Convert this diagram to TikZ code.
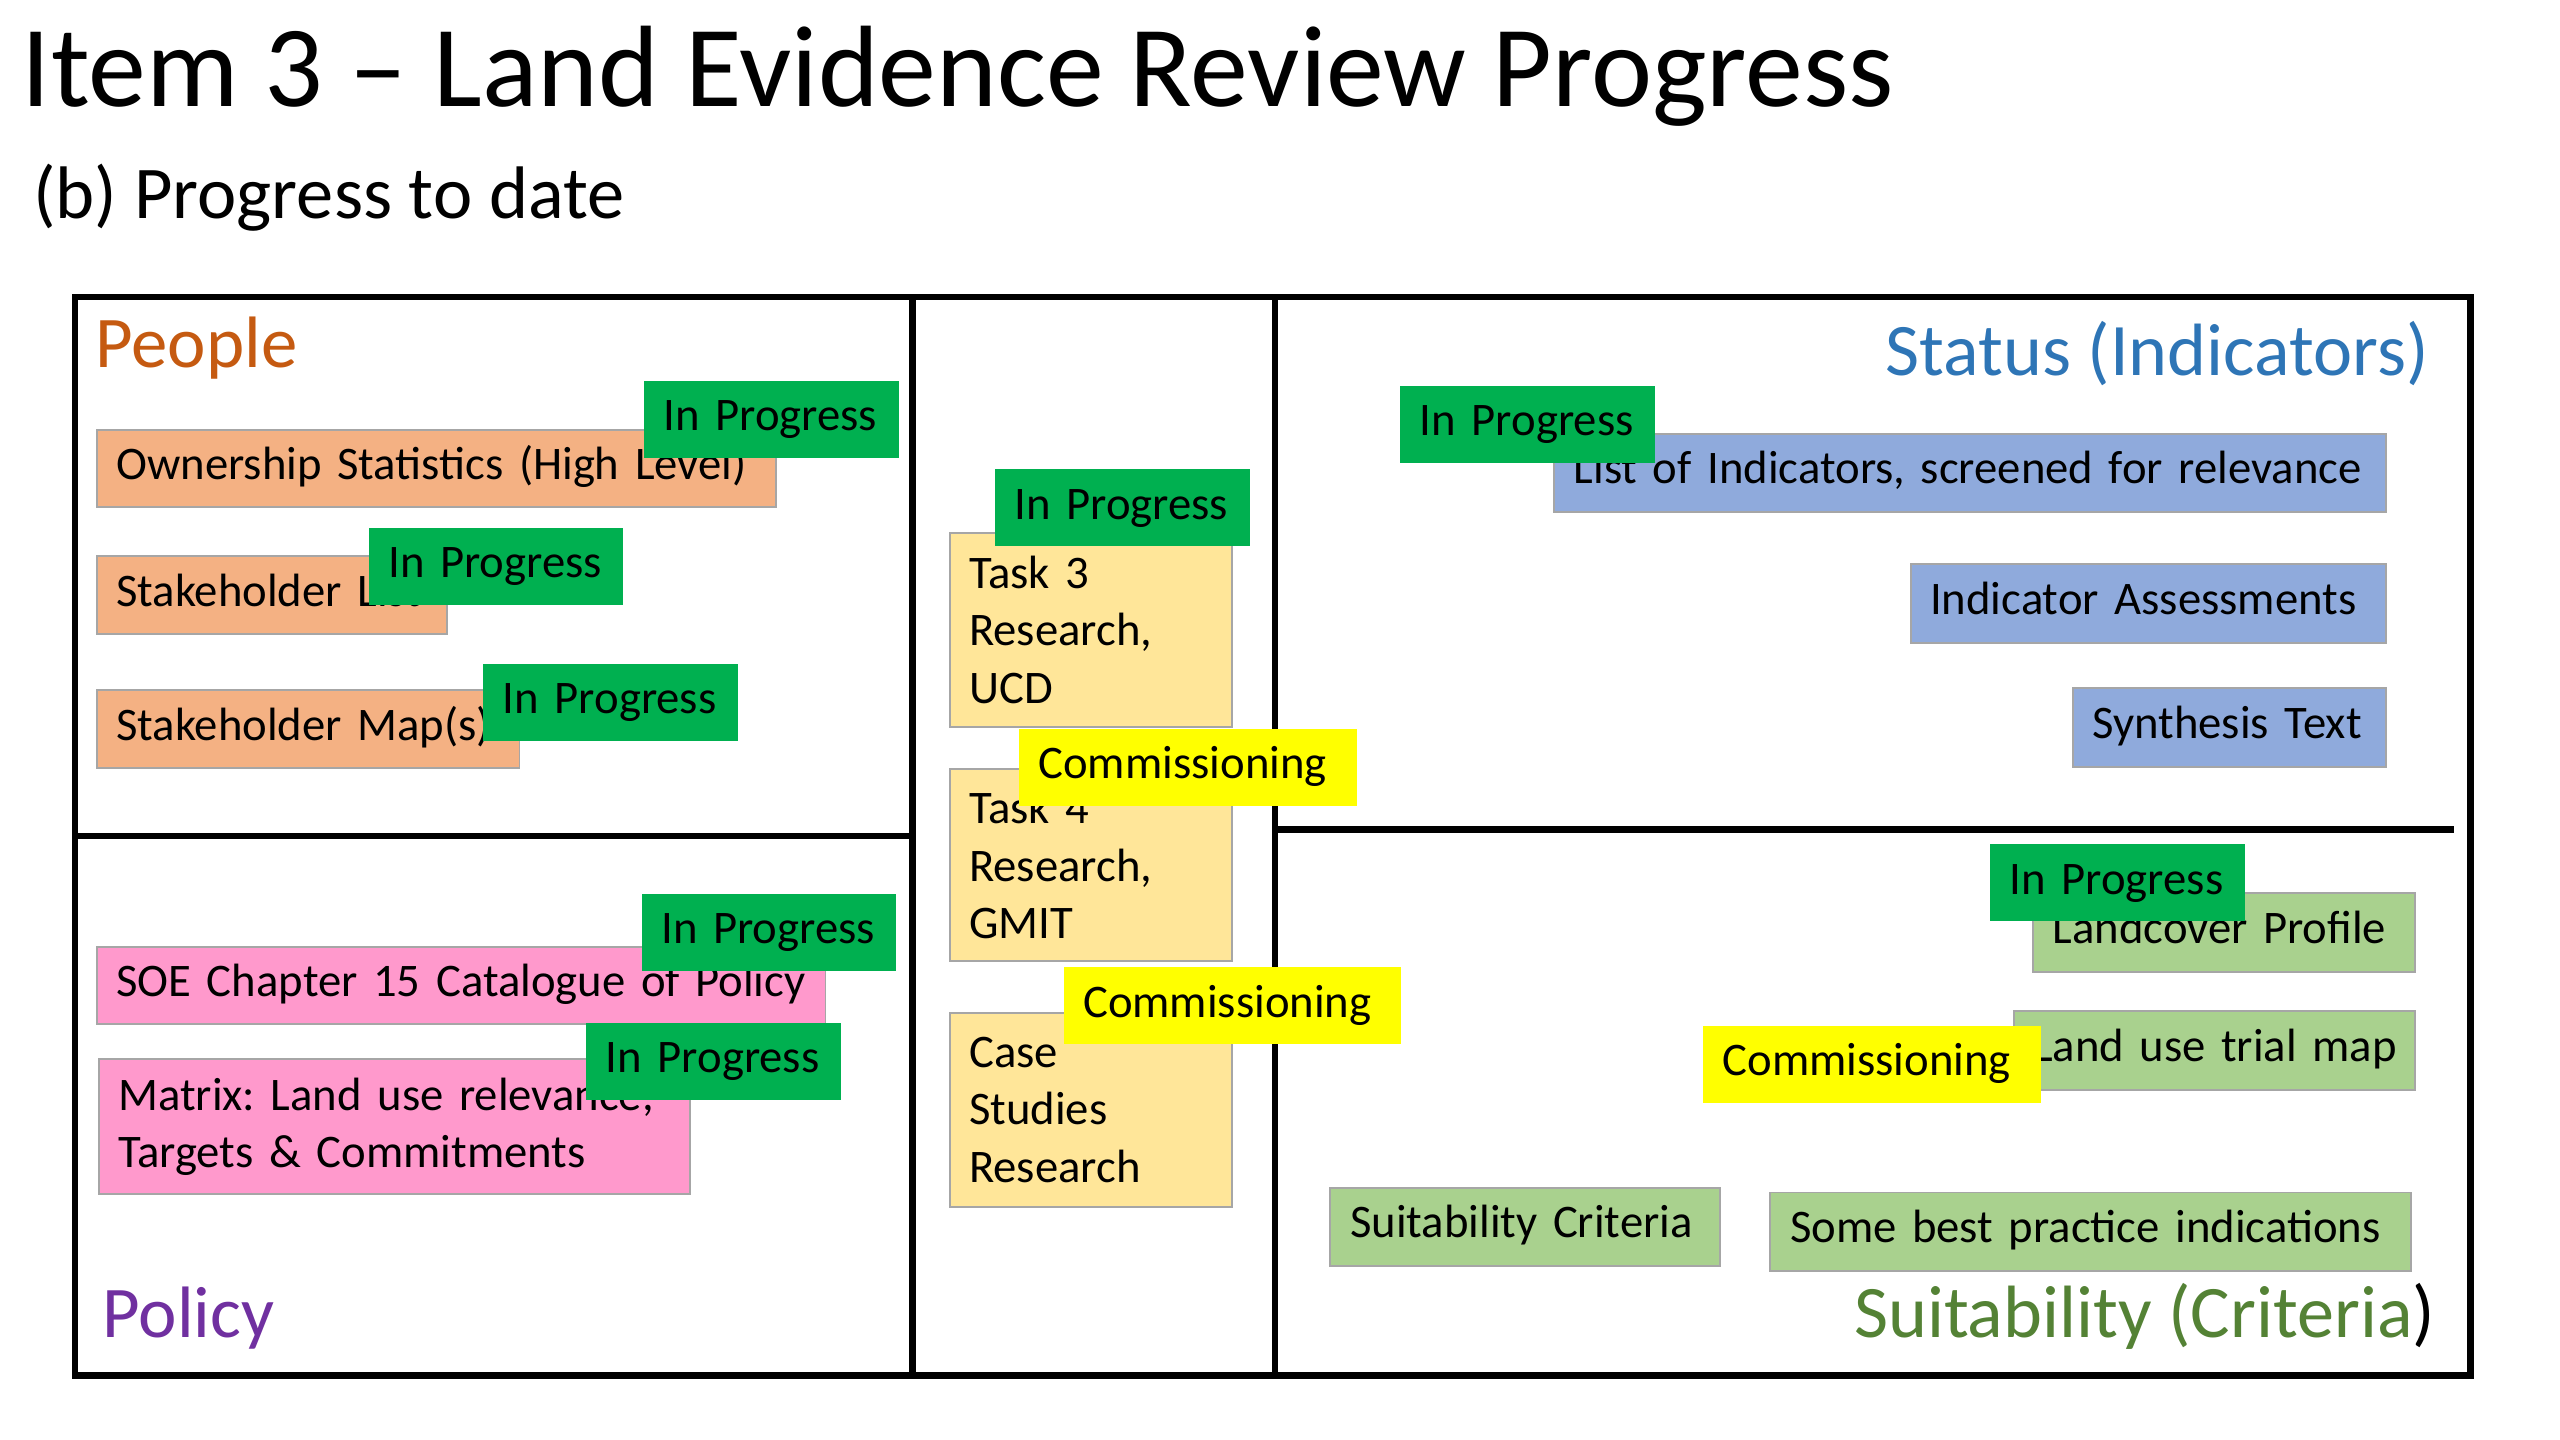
\documentclass[tikz,border=0pt]{standalone}
\usepackage{fontspec}
\setmainfont{Carlito}
\definecolor{obox}{HTML}{F4B183}
\definecolor{pbox}{HTML}{FF99CC}
\definecolor{ybox}{HTML}{FFE699}
\definecolor{bbox}{HTML}{8FAADC}
\definecolor{gbox}{HTML}{A9D18E}
\definecolor{tgreen}{HTML}{00B050}
\definecolor{tyellow}{HTML}{FFFF00}
\definecolor{peoplec}{HTML}{C55A11}
\definecolor{statusc}{HTML}{2E75B6}
\definecolor{policyc}{HTML}{7030A0}
\definecolor{suitc}{HTML}{548235}
\definecolor{edgegray}{HTML}{A6A6A6}
\newcommand\bxfont{\fontsize{14.3}{17.6}\selectfont}
\newcommand\secfont{\fontsize{22.3}{26}\selectfont}
\newcommand\secbigfont{\fontsize{22.7}{26}\selectfont}
\frenchspacing
\begin{document}
\frenchspacing
\begin{tikzpicture}[x=0.5pt,y=-0.5pt,
  frame/.style={line width=2pt, black},
  itembox/.style={draw=edgegray, line width=0.6pt, anchor=north west, inner xsep=6pt, inner ysep=0pt, align=left, font=\bxfont},
  onebox/.style={itembox, text height=0.85em, text depth=0.18em},
  tagbox/.style={anchor=north west, inner xsep=6pt, inner ysep=0pt, align=left, font=\bxfont, text width=66pt, minimum height=23.6pt, text height=0.88em, text depth=0.18em},
  iptag/.style={tagbox, fill=tgreen},
  comtag/.style={tagbox, fill=tyellow, text width=91.5pt},
  lbl/.style={inner sep=0pt, font=\secfont}]
\useasboundingbox (0,0) rectangle (1568,882);

% titles
\node[inner sep=0pt, anchor=base west, font=\fontsize{35.45}{42}\selectfont] (title) at (13,65.3) {Item 3 – Land Evidence Review Progress};
\node[inner sep=0pt, anchor=base west, font=\fontsize{22.8}{27}\selectfont] (subtitle) at (20,133.7) {(b) Progress to date};

% frame
\draw[frame] (46,182) rectangle (1513,842.5);
\draw[frame] (559,182) -- (559,842.5);
\draw[frame] (781,182) -- (781,842.5);
\draw[frame] (46,512) -- (559,512);
\draw[frame] (781,508) -- (1503,508);

% People boxes
\node[onebox, fill=obox, text width=196pt, minimum height=23.75pt] (o1) at (58.6,262.5) {\mbox{Ownership Statistics (High Level)}};
\node[onebox, fill=obox, text width=95.4pt, minimum height=24pt] (o2) at (58.6,340) {\mbox{Stakeholder List}};
\node[onebox, fill=obox, text width=117.5pt, minimum height=24pt] (o3) at (58.6,422) {\mbox{Stakeholder Map(s)}};

% Policy boxes
\node[onebox, fill=pbox, text width=211.2pt, minimum height=23.6pt] (p1) at (58.6,579.6) {\mbox{SOE Chapter 15 Catalogue of Policy}};
\node[itembox, fill=pbox, text width=169.1pt, minimum height=41.5pt] (p2) at (59.8,648) {Matrix: Land use relevance,\\Targets \& Commitments};

% Middle boxes
\node[itembox, fill=ybox, text width=74.5pt, minimum height=59.2pt] (y1) at (581,326) {Task 3\\Research,\\UCD};
\node[itembox, fill=ybox, text width=74.5pt, minimum height=58.9pt] (y2) at (581,470.3) {Task 4\\Research,\\GMIT};
\node[itembox, fill=ybox, text width=74.5pt, minimum height=59.4pt] (y3) at (581,619.6) {Case\\Studies\\Research};

% Status boxes
\node[onebox, fill=bbox, text width=242.85pt, minimum height=24pt] (b1) at (951.3,265) {\mbox{List of Indicators, screened for relevance}};
\node[onebox, fill=bbox, text width=133.7pt, minimum height=24pt] (b2) at (1169.6,345) {\mbox{Indicator Assessments}};
\node[onebox, fill=bbox, text width=84pt, minimum height=24.15pt] (b3) at (1269,420.7) {\mbox{Synthesis Text}};

% Suitability boxes
\node[onebox, fill=gbox, text width=105pt, minimum height=24.05pt] (l1) at (1244.7,546.5) {\mbox{Landcover Profile}};
\node[onebox, fill=gbox, text width=111pt, minimum height=24.2pt] (l2) at (1232.7,618.9) {\mbox{Land use trial map}};
\node[onebox, fill=gbox, text width=107.15pt, minimum height=23.8pt] (l3) at (814.3,727) {\mbox{Suitability Criteria}};
\node[onebox, fill=gbox, text width=184.1pt, minimum height=24.1pt] (l4) at (1083.8,729.8) {\mbox{Some best practice indications}};

% status tags
\node[iptag] (g1) at (394,232.7) {In Progress};
\node[iptag] (g2) at (225.4,323) {In Progress};
\node[iptag] (g3) at (295.6,406) {In Progress};
\node[iptag] (g4) at (392.6,547) {In Progress};
\node[iptag] (g5) at (358.7,626) {In Progress};
\node[iptag] (g6) at (609,287) {In Progress};
\node[iptag] (g7) at (857.3,235.8) {In Progress};
\node[iptag] (g8) at (1218.6,516.7) {In Progress};
\node[comtag] (c1) at (623.6,446) {Commissioning};
\node[comtag] (c2) at (651,592) {Commissioning};
\node[comtag] (c3) at (1042.7,628) {Commissioning};

% section labels
\node[lbl, anchor=base west, text=peoplec] (people) at (58,225) {People};
\node[lbl, font=\secbigfont, anchor=base east, text=statusc] (status) at (1488,230) {Status (Indicators)};
\node[lbl, anchor=base west, text=policyc] (policy) at (62.5,819) {Policy};
\node[lbl, font=\secbigfont, anchor=base east] (suit) at (1492,819) {\textcolor{suitc}{Suitability (Criteria})};
\end{tikzpicture}
\end{document}
